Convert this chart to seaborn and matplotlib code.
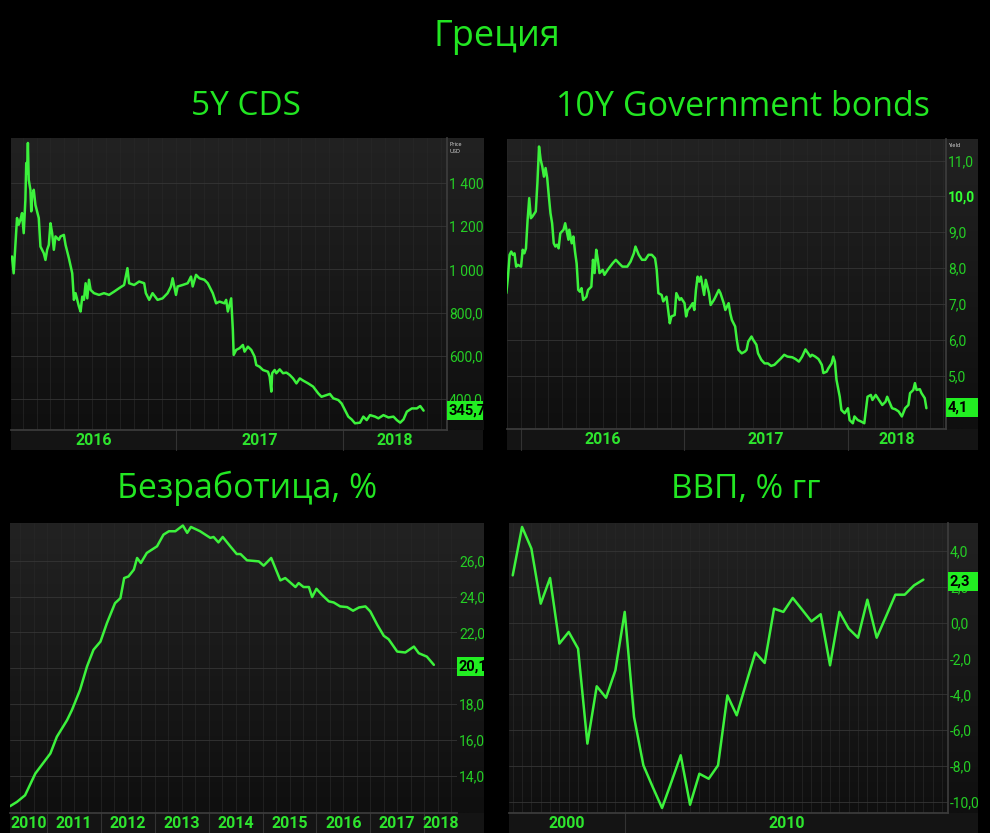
import numpy as np
import pandas as pd
import matplotlib.pyplot as plt
import seaborn as sns
from matplotlib.colors import LinearSegmentedColormap
from matplotlib.patches import Rectangle
from matplotlib.transforms import Bbox, TransformedBbox

sns.set_theme(style="dark")
plt.rcParams['font.family'] = ['Open Sans', 'DejaVu Sans']

GREEN = '#3cf23c'
LABEL = '#25cf25'
TITLE = '#22e622'
NARROW = ['Roboto', 'DejaVu Sans']

# 5Y CDS, USD (decimal year, value)
cds_t = [2016.02, 2016.03, 2016.04, 2016.05, 2016.06, 2016.07, 2016.08, 2016.09, 2016.10, 2016.105,
         2016.11, 2016.115, 2016.12, 2016.13, 2016.135, 2016.14, 2016.15, 2016.16, 2016.18, 2016.19,
         2016.21, 2016.22, 2016.23, 2016.24, 2016.25, 2016.26, 2016.27, 2016.28, 2016.30, 2016.31,
         2016.33, 2016.34, 2016.36, 2016.38, 2016.39, 2016.40, 2016.42, 2016.43, 2016.44, 2016.45,
         2016.46, 2016.47, 2016.48, 2016.49, 2016.51, 2016.54, 2016.57, 2016.60, 2016.63, 2016.66,
         2016.69, 2016.70, 2016.71, 2016.72, 2016.75, 2016.78, 2016.81, 2016.82, 2016.84, 2016.86,
         2016.89, 2016.92, 2016.95, 2016.97, 2016.98, 2017.00, 2017.01, 2017.04, 2017.07, 2017.09,
         2017.10, 2017.12, 2017.14, 2017.17, 2017.19, 2017.21, 2017.22, 2017.24, 2017.26, 2017.29,
         2017.30, 2017.31, 2017.33, 2017.34, 2017.345, 2017.36, 2017.38, 2017.40, 2017.41, 2017.43,
         2017.45, 2017.47, 2017.48, 2017.50, 2017.52, 2017.55, 2017.56, 2017.57, 2017.575, 2017.59,
         2017.60, 2017.62, 2017.64, 2017.66, 2017.68, 2017.70, 2017.72, 2017.74, 2017.76, 2017.79,
         2017.82, 2017.85, 2017.87, 2017.90, 2017.92, 2017.94, 2017.97, 2017.99, 2018.01, 2018.03,
         2018.05, 2018.07, 2018.10, 2018.12, 2018.14, 2018.16, 2018.19, 2018.21, 2018.24, 2018.27,
         2018.30, 2018.32, 2018.34, 2018.36, 2018.38, 2018.41, 2018.44, 2018.46, 2018.48]
cds_v = [1060, 982, 1106, 1238, 1207, 1230, 1261, 1168, 1323, 1493,
         1446, 1586, 1415, 1369, 1269, 1338, 1369, 1299, 1238, 1106,
         1075, 1044, 1091, 1114, 1214, 1168, 1091, 1153, 1137, 1153,
         1160, 1114, 1052, 982, 859, 890, 828, 805, 874, 859,
         936, 866, 952, 905, 890, 882, 890, 882, 897, 913,
         928, 967, 1006, 936, 928, 944, 936, 890, 859, 890,
         859, 866, 890, 921, 959, 882, 921, 928, 936, 967,
         921, 975, 959, 952, 936, 905, 890, 843, 851, 843,
         859, 805, 866, 720, 604, 627, 635, 650, 619, 642,
         627, 596, 557, 549, 534, 526, 503, 434, 519, 534,
         519, 537, 519, 522, 511, 495, 472, 495, 485, 472,
         457, 426, 410, 418, 423, 403, 395, 379, 348, 318,
         305, 287, 290, 318, 302, 325, 318, 310, 325, 314,
         318, 302, 290, 305, 341, 356, 356, 367, 345.7]

# 10Y government bond yield, %
bond_t = [2015.91, 2015.92, 2015.93, 2015.94, 2015.95, 2015.96, 2015.97, 2015.98, 2016.00, 2016.01,
          2016.02, 2016.03, 2016.04, 2016.05, 2016.06, 2016.07, 2016.09, 2016.10, 2016.11, 2016.12,
          2016.13, 2016.14, 2016.15, 2016.16, 2016.17, 2016.18, 2016.19, 2016.20, 2016.21, 2016.22,
          2016.23, 2016.24, 2016.26, 2016.27, 2016.29, 2016.295, 2016.31, 2016.32, 2016.33, 2016.34,
          2016.35, 2016.36, 2016.37, 2016.38, 2016.40, 2016.41, 2016.43, 2016.44, 2016.45, 2016.46,
          2016.47, 2016.48, 2016.50, 2016.51, 2016.53, 2016.56, 2016.58, 2016.60, 2016.62, 2016.65,
          2016.67, 2016.69, 2016.70, 2016.72, 2016.74, 2016.76, 2016.78, 2016.80, 2016.82, 2016.83,
          2016.84, 2016.86, 2016.87, 2016.89, 2016.90, 2016.91, 2016.92, 2016.94, 2016.95, 2016.97,
          2016.98, 2017.00, 2017.01, 2017.02, 2017.03, 2017.05, 2017.06, 2017.07, 2017.08, 2017.09,
          2017.10, 2017.12, 2017.13, 2017.14, 2017.15, 2017.16, 2017.18, 2017.19, 2017.21, 2017.22,
          2017.24, 2017.25, 2017.27, 2017.28, 2017.29, 2017.31, 2017.32, 2017.33, 2017.35, 2017.37,
          2017.38, 2017.39, 2017.41, 2017.42, 2017.44, 2017.45, 2017.47, 2017.49, 2017.51, 2017.53,
          2017.55, 2017.57, 2017.59, 2017.61, 2017.63, 2017.66, 2017.68, 2017.70, 2017.72, 2017.74,
          2017.76, 2017.77, 2017.78, 2017.80, 2017.82, 2017.84, 2017.85, 2017.87, 2017.88, 2017.90,
          2017.91, 2017.92, 2017.93, 2017.95, 2017.96, 2017.98, 2018.00, 2018.01, 2018.03, 2018.04,
          2018.06, 2018.08, 2018.10, 2018.11, 2018.12, 2018.14, 2018.15, 2018.17, 2018.19, 2018.21,
          2018.23, 2018.24, 2018.27, 2018.29, 2018.31, 2018.33, 2018.35, 2018.37, 2018.38, 2018.40,
          2018.41, 2018.42, 2018.44, 2018.45, 2018.47, 2018.48]
bond_v = [7.30, 7.76, 8.37, 8.46, 8.37, 8.41, 8.04, 8.09, 8.04, 8.51,
          8.41, 8.55, 9.34, 9.95, 9.39, 9.44, 9.58, 10.37, 11.39, 11.02,
          10.83, 10.55, 10.79, 10.51, 10.00, 9.53, 9.25, 8.69, 8.60, 8.65,
          8.55, 8.97, 9.07, 9.25, 8.79, 9.07, 8.69, 8.88, 8.46, 8.13,
          7.39, 7.34, 7.44, 7.11, 7.20, 7.39, 7.48, 8.23, 7.86, 8.51,
          8.23, 7.86, 7.95, 7.81, 7.95, 8.13, 8.23, 8.13, 8.04, 8.04,
          8.18, 8.41, 8.60, 8.37, 8.23, 8.23, 8.37, 8.37, 8.27, 7.95,
          7.30, 7.25, 7.07, 7.20, 6.83, 6.46, 6.65, 6.69, 7.30, 7.11,
          7.16, 7.02, 6.65, 6.83, 6.88, 7.02, 6.83, 7.39, 7.76, 7.62,
          7.76, 7.25, 7.67, 7.48, 7.30, 6.97, 7.11, 7.20, 7.39, 7.30,
          7.02, 6.83, 7.02, 6.74, 6.55, 6.37, 6.00, 5.72, 5.62, 5.67,
          5.72, 5.95, 6.09, 6.00, 5.86, 5.62, 5.44, 5.34, 5.34, 5.27,
          5.30, 5.39, 5.48, 5.58, 5.53, 5.51, 5.46, 5.39, 5.53, 5.73,
          5.60, 5.53, 5.58, 5.53, 5.46, 5.30, 5.07, 5.11, 5.20, 5.34,
          5.53, 5.39, 4.88, 4.41, 4.04, 3.95, 4.09, 3.76, 3.67, 3.86,
          3.76, 3.72, 3.67, 4.04, 4.41, 4.46, 4.32, 4.46, 4.32, 4.18,
          4.27, 4.41, 4.09, 4.06, 4.00, 3.86, 4.09, 4.18, 4.51, 4.60,
          4.79, 4.60, 4.62, 4.51, 4.37, 4.09]

# Unemployment, %
unemp_t = [2010.31, 2010.44, 2010.59, 2010.78, 2011.06, 2011.18, 2011.37, 2011.46, 2011.61, 2011.74,
           2011.86, 2011.99, 2012.11, 2012.26, 2012.36, 2012.43, 2012.51, 2012.61, 2012.67, 2012.74,
           2012.85, 2013.04, 2013.16, 2013.26, 2013.38, 2013.52, 2013.60, 2013.67, 2013.84, 2014.03,
           2014.09, 2014.18, 2014.26, 2014.40, 2014.52, 2014.59, 2014.71, 2014.93, 2015.02, 2015.16,
           2015.33, 2015.42, 2015.61, 2015.67, 2015.76, 2015.86, 2015.92, 2016.00, 2016.10, 2016.23,
           2016.32, 2016.44, 2016.57, 2016.68, 2016.79, 2016.91, 2017.00, 2017.13, 2017.25, 2017.34,
           2017.50, 2017.65, 2017.81, 2017.90, 2018.05, 2018.18]
unemp_v = [12.31, 12.55, 12.92, 14.13, 15.25, 16.18, 17.11, 17.67, 18.79, 20.10,
           21.03, 21.49, 22.52, 23.63, 23.91, 25.03, 25.12, 25.50, 26.15, 25.87,
           26.43, 26.80, 27.45, 27.64, 27.64, 27.96, 27.55, 27.88, 27.64, 27.27,
           27.32, 27.02, 27.32, 26.80, 26.37, 26.37, 26.02, 25.96, 25.72, 26.15,
           24.90, 25.03, 24.53, 24.75, 24.53, 24.53, 23.97, 24.43, 24.10, 23.73,
           23.67, 23.45, 23.41, 23.21, 23.39, 23.45, 23.17, 22.42, 21.81, 21.62,
           20.93, 20.88, 21.21, 20.84, 20.65, 20.19]

# GDP, % y/y, quarterly 2007Q1 - 2018Q1
gdp_q = pd.period_range('2007Q1', '2018Q1', freq='Q')
gdp_v = [2.64, 5.34, 4.13, 1.06, 2.49, -1.17, -0.52, -1.45, -6.75, -3.55,
         -4.19, -2.66, 0.60, -5.27, -7.96, -9.17, -10.34, -8.89, -7.40, -10.16,
         -8.43, -8.71, -7.96, -4.06, -5.17, -3.40, -1.67, -2.25, 0.78, 0.60,
         1.38, 0.73, 0.07, 0.47, -2.38, 0.60, -0.33, -0.84, 1.28, -0.84,
         0.35, 1.56, 1.56, 2.08, 2.40]
gdp_t = gdp_q.year + (gdp_q.quarter - 1) / 4

W, H = 990, 833
fig = plt.figure(figsize=(W / 100, H / 100), dpi=100, facecolor='black')


def px(x0, y0, x1, y1):
    return [x0 / W, 1 - y1 / H, (x1 - x0) / W, (y1 - y0) / H]


grad = LinearSegmentedColormap.from_list('bg', ['#0f0f0f', '#222222'])


def fmt(v):
    return f'{v:,.1f}'.replace(',', ' ').replace('.', ',')


def panel(box, col_right, strip_bottom, x, y, xlim, ylim, yticks, minor_x,
          periods, last, border=True, bold_tick=None, head=None, hidden=()):
    x0, y0, x1, y1 = box
    g = fig.add_axes(px(x0, y0, col_right, y1))
    g.imshow(np.linspace(1, 0, 256).reshape(-1, 1), cmap=grad, aspect='auto',
             extent=[0, 1, 0, 1])
    g.axis('off')
    s = fig.add_axes(px(x0, y1, col_right, strip_bottom))
    s.set_facecolor('#141414')
    s.set_xticks([])
    s.set_yticks([])
    for sp in s.spines.values():
        sp.set_visible(False)

    ax = fig.add_axes(px(x0, y0, x1, y1))
    ax.patch.set_alpha(0)
    sns.lineplot(x=np.asarray(x), y=np.asarray(y), ax=ax, color=GREEN, lw=1.8,
                 estimator=None, sort=False, zorder=4)
    ax.set_xlabel('')
    ax.set_ylabel('')
    ax.yaxis.tick_right()
    labels = ['' if v in hidden else fmt(v) for v in yticks]
    ax.set_yticks(yticks, labels, fontfamily=NARROW)
    ax.tick_params(axis='y', which='both', length=0, pad=1.5, labelsize=10,
                   labelcolor=LABEL)
    ax.set_xticks([])
    ax.set_xticks(minor_x, minor=True)
    ax.tick_params(axis='x', which='both', length=0, labelbottom=False)
    ax.set_xlim(*xlim)
    ax.set_ylim(*ylim)
    ax.grid(axis='y', which='major', color='#353535', lw=0.6)
    ax.grid(axis='x', which='minor', color='#272727', lw=0.5)
    for sp in ax.spines.values():
        sp.set_visible(False)
    ax.spines['bottom'].set_visible(True)
    ax.spines['bottom'].set_color('#3c3c3c')
    if border:
        ax.spines['right'].set_visible(True)
        ax.spines['right'].set_color('#3c3c3c')

    # labels are cut at the right edge of the label column
    clip = TransformedBbox(Bbox([[x1 / W, 1 - y1 / H], [col_right / W, 1 - y0 / H]]),
                           fig.transFigure)
    for t in ax.get_yticklabels():
        t.set_clip_box(clip)
        t.set_clip_on(True)
        if bold_tick is not None and t.get_text() == fmt(bold_tick):
            t.set_fontweight('bold')
            t.set_color('#33ff33')

    pw, ph = x1 - x0, y1 - y0
    sh = (strip_bottom - y1) / ph
    for label, a, b in periods:
        lo, hi = max(a, xlim[0]), min(b, xlim[1])
        ax.text((lo + hi) / 2, -sh / 2, label, transform=ax.get_xaxis_transform(),
                ha='center', va='center', color='#2ee52e', fontsize=11.5,
                fontweight='bold', family=NARROW, clip_on=False)
        if xlim[0] < a < xlim[1]:
            ax.plot([a, a], [0, -sh], transform=ax.get_xaxis_transform(),
                    color='#333333', lw=0.8, clip_on=False)

    # last value tag
    tag_h = 19 * (ylim[1] - ylim[0]) / ph
    cw = (col_right - x1) / pw
    ax.add_patch(Rectangle((1, last - tag_h / 2), cw, tag_h,
                           transform=ax.get_yaxis_transform(), fc='#22ee22',
                           ec='none', zorder=6, clip_on=False))
    ax.text(1 + 1.5 / pw, last, fmt(last), transform=ax.get_yaxis_transform(),
            ha='left', va='center', color='black', fontsize=10.5, fontweight='bold',
            family=NARROW, zorder=7, clip_on=False)
    if head:
        fig.text((x1 + 2) / W, 1 - (y0 + 4) / H, head, color='#dddddd', fontsize=4,
                 va='top', ha='left', linespacing=1.6)
    return ax


years = lambda a, b: [(str(k), k, k + 1) for k in range(a, b + 1)]

panel((11, 138, 447, 430), 483, 450, cds_t, cds_v, (2016.014, 2018.62), (256, 1609),
      [400, 600, 800, 1000, 1200, 1400], np.arange(2016, 2018.7, 1 / 12),
      years(2016, 2018), 345.7, head='Price\nUSD')
panel((507, 139, 946, 429), 978, 450, bond_t, bond_v, (2015.914, 2018.60), (3.51, 11.6),
      [5, 6, 7, 8, 9, 10, 11], np.arange(2015, 2018.7, 1 / 12),
      years(2016, 2018), 4.1, bold_tick=10, head='Yield')
panel((10, 523, 457, 813), 484, 833, unemp_t, unemp_v, (2010.31, 2018.61), (11.93, 28.1),
      [14, 16, 18, 20, 22, 24, 26], np.arange(2010, 2018.7, 0.25),
      years(2010, 2018), 20.1, border=False, hidden=(20,))
panel((509, 523, 948, 813), 978, 833, gdp_t, gdp_v, (2006.9, 2018.66), (-10.62, 5.56),
      [-10, -8, -6, -4, -2, 0, 2, 4], np.arange(2007, 2018.7, 0.25),
      [('2000', 2000, 2010), ('2010', 2010, 2020)], 2.3)

fig.text(496.5 / W, 1 - 46 / H, 'Греция', color=TITLE, fontsize=26, ha='center', va='baseline')
fig.text(245.5 / W, 1 - 115 / H, '5Y CDS', color=TITLE, fontsize=24, ha='center', va='baseline')
fig.text(743 / W, 1 - 115.5 / H, '10Y Government bonds', color=TITLE, fontsize=24.5,
         ha='center', va='baseline')
fig.text(247.5 / W, 1 - 498 / H, 'Безработица, %', color=TITLE, fontsize=24.5,
         ha='center', va='baseline')
fig.text(745.5 / W, 1 - 498 / H, 'ВВП, % гг', color=TITLE, fontsize=24,
         ha='center', va='baseline')

fig.savefig('out.png', dpi=100, facecolor='black')
